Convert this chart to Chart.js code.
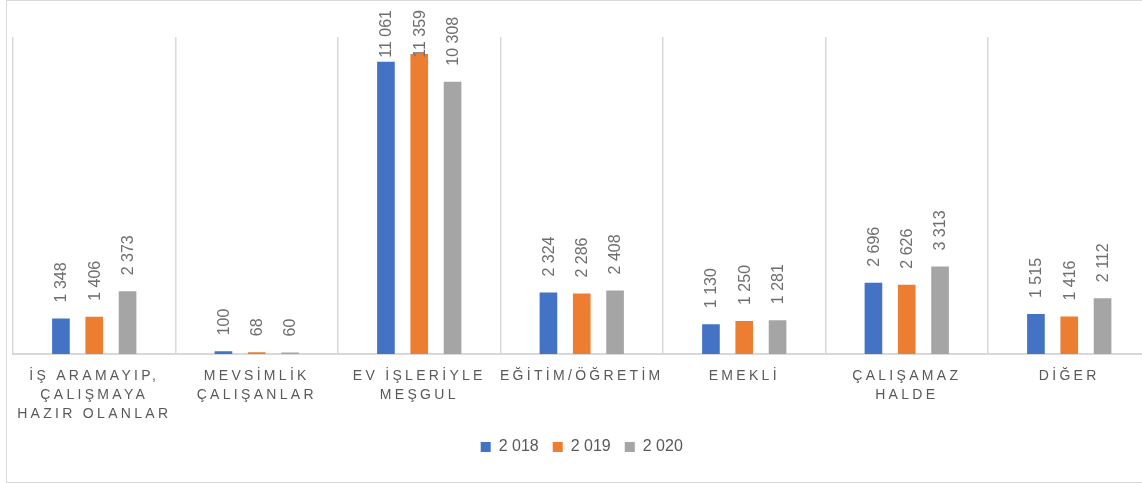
<!DOCTYPE html>
<html>
<head>
<meta charset="utf-8">
<script src="https://cdn.jsdelivr.net/npm/chart.js@4.4.0/dist/chart.umd.min.js"></script>
<style>
    html, body { margin: 0; padding: 0; background: #fff; overflow: hidden; }
    #frame { position: absolute; left: 6px; top: 0; width: 1148px; height: 481px; border: 1px solid #d9d9d9; }
    #frame canvas { display: block; }
</style>
</head>
<body>
<div id="frame"><canvas id="statusChart" width="1148" height="481"></canvas></div>
<script>
// Categories (each entry is the label split into lines)
const categories = [
    ['İŞ ARAMAYIP,', 'ÇALIŞMAYA', 'HAZIR OLANLAR'],
    ['MEVSİMLİK', 'ÇALIŞANLAR'],
    ['EV İŞLERİYLE', 'MEŞGUL'],
    ['EĞİTİM/ÖĞRETİM'],
    ['EMEKLİ'],
    ['ÇALIŞAMAZ', 'HALDE'],
    ['DİĞER']
];

const seriesNames = ['2 018', '2 019', '2 020'];

const values2018 = [1348, 100, 11061, 2324, 1130, 2696, 1515];
const values2019 = [1406, 68, 11359, 2286, 1250, 2626, 1416];
const values2020 = [2373, 60, 10308, 2408, 1281, 3313, 2112];

const textColor = '#595959';
const lineColor = '#d9d9d9';

// 1348 -> "1 348"
function fmt(v) {
    return String(v).replace(/\B(?=(\d{3})+(?!\d))/g, ' ');
}

// Vertical value labels above each bar
const barLabels = {
    id: 'barLabels',
    afterDatasetsDraw(chart) {
        const ctx = chart.ctx;
        ctx.save();
        ctx.font = '16px "Liberation Sans", Arial, sans-serif';
        ctx.fillStyle = '#6e6e6e';
        ctx.textAlign = 'left';
        ctx.textBaseline = 'middle';
        chart.data.datasets.forEach((ds, di) => {
            const meta = chart.getDatasetMeta(di);
            meta.data.forEach((bar, i) => {
                const text = fmt(ds.data[i]);
                const w = ctx.measureText(text).width;
                let start = bar.y - 16;
                // keep the label inside the frame
                if (start - w < 9) start = 9 + w;
                ctx.save();
                ctx.translate(bar.x + 1, start);
                ctx.rotate(-Math.PI / 2);
                ctx.fillText(text, 0, 0);
                ctx.restore();
            });
        });
        ctx.restore();
    }
};

// Letter-spaced category labels under the axis
const categoryLabels = {
    id: 'categoryLabels',
    afterDraw(chart) {
        const ctx = chart.ctx;
        const xScale = chart.scales.x;
        ctx.save();
        ctx.font = '14px "Liberation Sans", Arial, sans-serif';
        ctx.fillStyle = textColor;
        ctx.textAlign = 'center';
        ctx.textBaseline = 'alphabetic';
        ctx.letterSpacing = '3.3px';
        categories.forEach((lines, i) => {
            const x = xScale.getPixelForTick(i);
            lines.forEach((line, k) => {
                ctx.fillText(line, x, 379 + k * 19);
            });
        });
        ctx.restore();
    }
};

function initChart() {
    const ctx = document.getElementById('statusChart').getContext('2d');

    new Chart(ctx, {
        type: 'bar',
        data: {
            labels: categories.map(c => c.join(' ')),
            datasets: [
                { label: seriesNames[0], data: values2018, backgroundColor: '#4472C4' },
                { label: seriesNames[1], data: values2019, backgroundColor: '#ED7D31' },
                { label: seriesNames[2], data: values2020, backgroundColor: '#A5A5A5' }
            ]
        },
        options: {
            responsive: false,
            animation: false,
            categoryPercentage: 0.615,
            barPercentage: 0.53,
            layout: {
                padding: { left: 6, right: 4.5, top: 36, bottom: 17 }
            },
            plugins: {
                legend: {
                    position: 'bottom',
                    labels: {
                        boxWidth: 10,
                        boxHeight: 10,
                        padding: 14,
                        color: textColor,
                        font: { family: '"Liberation Sans", Arial, sans-serif', size: 16 }
                    }
                },
                tooltip: { enabled: false }
            },
            scales: {
                x: {
                    offset: true,
                    grid: {
                        offset: true,
                        color: lineColor,
                        lineWidth: 1.5,
                        drawTicks: false
                    },
                    border: { color: lineColor, width: 2 },
                    ticks: { display: false },
                    afterFit: (scale) => { scale.height = 71; }
                },
                y: {
                    display: false,
                    min: 0,
                    max: 12000
                }
            }
        },
        plugins: [barLabels, categoryLabels]
    });
}

window.addEventListener('DOMContentLoaded', () => {
    initChart();
});
</script>
</body>
</html>
